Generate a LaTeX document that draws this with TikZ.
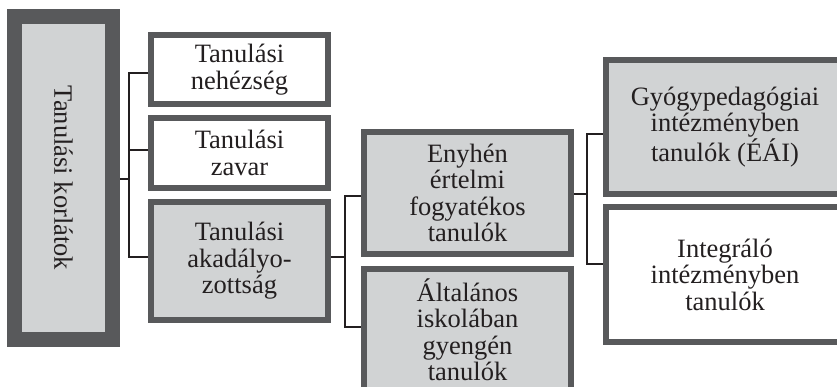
\documentclass[tikz,border=0pt]{standalone}
\usepackage{fontspec}
\setmainfont{Liberation Serif}
\definecolor{bordergray}{HTML}{58595B}
\definecolor{fillgray}{HTML}{D1D3D4}
\definecolor{ink}{HTML}{231F20}
\begin{document}
\begin{tikzpicture}[x=1pt,y=-1pt,
  box/.style={draw=bordergray, line width=6pt, inner sep=0pt, align=center,
    text=ink, font=\fontsize{26.5}{26.5}\selectfont},
  graybox/.style={box, fill=fillgray},
  whitebox/.style={box, fill=white},
  conn/.style={draw=ink, line width=2pt}]
\useasboundingbox (0,0) rectangle (837,387);
\node[graybox, line width=15pt, minimum width=98pt, minimum height=323pt] (lbox) at (63.5,178)
  {\rotatebox{-90}{Tanulási korlátok}};
\node[whitebox, minimum width=177pt, minimum height=69pt] (nehez) at (239.5,69.5) {Tanulási\\nehézség};
\node[whitebox, minimum width=177pt, minimum height=70pt] (zavar) at (239.5,153) {Tanulási\\zavar};
\node[graybox, minimum width=177pt, minimum height=118pt] (akad) at (239.5,261) {Tanulási\\akadályo-\\zottság};
\node[graybox, minimum width=207pt, minimum height=122pt] (enyhen) at (467.5,193) {Enyhén\\értelmi\\fogyatékos\\tanulók};
\node[graybox, minimum width=207pt, minimum height=122pt] (altal) at (467.5,330) {Általános\\iskolában\\gyengén\\tanulók};
\node[graybox, minimum width=238pt, minimum height=134pt] (gyogy) at (725,127) {Gyógypedagógiai\\intézményben\\tanulók (ÉÁI)};
\node[whitebox, minimum width=238pt, minimum height=135pt] (integr) at (725,274.5) {Integráló\\intézményben\\tanulók};
% connectors
\draw[conn] ([yshift=-1pt]lbox.east) -- ++(9,0);
\draw[conn] ([yshift=-3.5pt]nehez.west) -- ++(-19,0) |- ([yshift=4pt]akad.west);
\draw[conn] ([yshift=3pt]zavar.west) -- ++(-19,0);
\draw[conn] ([yshift=4pt]akad.east) -- ++(14,0);
\draw[conn] ([yshift=-3pt]enyhen.west) -- ++(-16,0) |- ([yshift=3pt]altal.west);
\draw[conn] ([yshift=-1pt]enyhen.east) -- ++(13,0);
\draw[conn] ([yshift=-7pt]gyogy.west) -- ++(-16,0) |- ([yshift=10.5pt]integr.west);
\end{tikzpicture}
\end{document}
